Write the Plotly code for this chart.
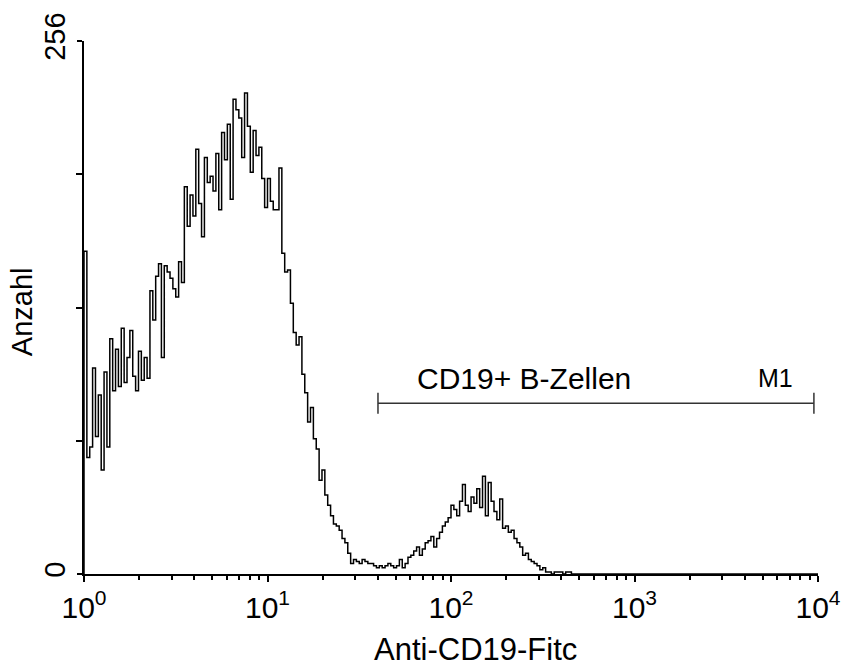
import plotly.graph_objects as go

# ---- data ----
n_channels = 256
channels_per_decade = 64
counts = [
    155, 56, 61, 99, 66, 86, 50, 97, 61, 113, 88, 108, 90, 118, 92, 104,
    117, 95, 88, 107, 93, 104, 94, 136, 122, 143, 149, 104, 148, 145, 142, 137,
    133, 150, 140, 186, 167, 182, 172, 204, 178, 162, 200, 188, 191, 184, 202, 175,
    212, 199, 216, 180, 228, 223, 219, 200, 231, 215, 193, 213, 201, 205, 190, 176,
    190, 179, 175, 175, 195, 154, 145, 146, 130, 116, 110, 114, 96, 87, 73, 80,
    65, 60, 45, 50, 38, 33, 28, 24, 23, 21, 17, 15, 10, 5, 7, 6,
    5, 7, 6, 5, 5, 4, 3, 4, 3, 4, 5, 4, 3, 4, 7, 3,
    5, 8, 9, 11, 13, 9, 12, 15, 16, 18, 13, 17, 20, 23, 25, 27,
    33, 31, 28, 35, 43, 33, 30, 37, 34, 41, 32, 47, 28, 44, 35, 30,
    26, 36, 22, 23, 20, 21, 17, 15, 13, 9, 10, 7, 6, 5, 4, 2,
    3, 1, 1, 0, 1, 1, 1, 0, 1, 1, 0,
]
counts = counts + [0] * (n_channels - len(counts))

gate_range = [40, 9500]
gate_level = 82
gate_cap = 5
gate_label = "CD19+ B-Zellen"
gate_name = "M1"

x_ticks = [1, 10, 100, 1000, 10000]
x_ticktext = ["10<sup>0</sup>", "10<sup>1</sup>", "10<sup>2</sup>", "10<sup>3</sup>", "10<sup>4</sup>"]
x_minor = [m * d for d in [1, 10, 100, 1000] for m in range(2, 10)]
y_ticks = [0, 256]
y_minor = [64, 128, 192]
x_title = "Anti-CD19-Fitc"
y_title = "Anzahl"

# channel edges on the log scale
edges = [10 ** (i / channels_per_decade) for i in range(n_channels + 1)]
xs = [edges[0]] + edges[:n_channels] + [edges[n_channels]]
ys = [0] + counts + [counts[-1]]

FONT = "Liberation Sans, Arial, sans-serif"

fig = go.Figure()
fig.add_trace(go.Scatter(
    x=xs, y=ys, mode="lines", line=dict(color="black", width=1.5, shape="hv"),
    hoverinfo="skip", showlegend=False,
))
g0, g1 = gate_range
fig.add_trace(go.Scatter(
    x=[g0, g0, None, g0, g1, None, g1, g1],
    y=[gate_level - gate_cap, gate_level + gate_cap, None, gate_level, gate_level, None,
       gate_level - gate_cap, gate_level + gate_cap],
    mode="lines", line=dict(color="#333333", width=1.5), hoverinfo="skip", showlegend=False,
))

fig.add_annotation(x=1.804, y=94, xref="x", yref="y", text=gate_label, showarrow=False,
                   xanchor="left", yanchor="middle", font=dict(family=FONT, size=30, color="black"))
fig.add_annotation(x=3.875, y=94, xref="x", yref="y", text=gate_name, showarrow=False,
                   xanchor="right", yanchor="middle", font=dict(family=FONT, size=25, color="black"))
fig.add_annotation(x=0.533, y=-0.142, xref="paper", yref="paper", text=x_title, showarrow=False,
                   xanchor="center", yanchor="middle", font=dict(family=FONT, size=31, color="black"))
fig.add_annotation(x=-0.0845, y=0.493, xref="paper", yref="paper", text=y_title, showarrow=False,
                   textangle=-90, xanchor="center", yanchor="middle",
                   font=dict(family=FONT, size=29, color="black"))

fig.update_layout(
    width=857, height=666,
    margin=dict(l=84, r=39, t=39, b=92, pad=0),
    paper_bgcolor="white", plot_bgcolor="white",
    font=dict(family=FONT, size=28, color="black"),
    xaxis=dict(
        type="log", range=[0, 4], showgrid=False, zeroline=False,
        showline=True, linecolor="black", linewidth=2,
        ticks="outside", ticklen=6, tickwidth=1.5, tickcolor="black",
        tickvals=x_ticks, ticktext=x_ticktext, ticklabelshift=0,
        tickfont=dict(family=FONT, size=30, color="black"),
        minor=dict(tickvals=x_minor, ticks="outside", ticklen=4, tickwidth=1.5, tickcolor="black"),
    ),
    yaxis=dict(
        range=[0, 256], showgrid=False, zeroline=False,
        showline=True, linecolor="black", linewidth=2,
        ticks="outside", ticklen=5, tickwidth=1.5, tickcolor="black",
        tickvals=y_ticks, ticktext=[str(v) for v in y_ticks], tickangle=-90,
        ticklabelstandoff=0,
        tickfont=dict(family=FONT, size=29, color="black"),
        minor=dict(tickvals=y_minor, ticks="outside", ticklen=6, tickwidth=1.5, tickcolor="black"),
    ),
)

fig.write_html("out.html")
